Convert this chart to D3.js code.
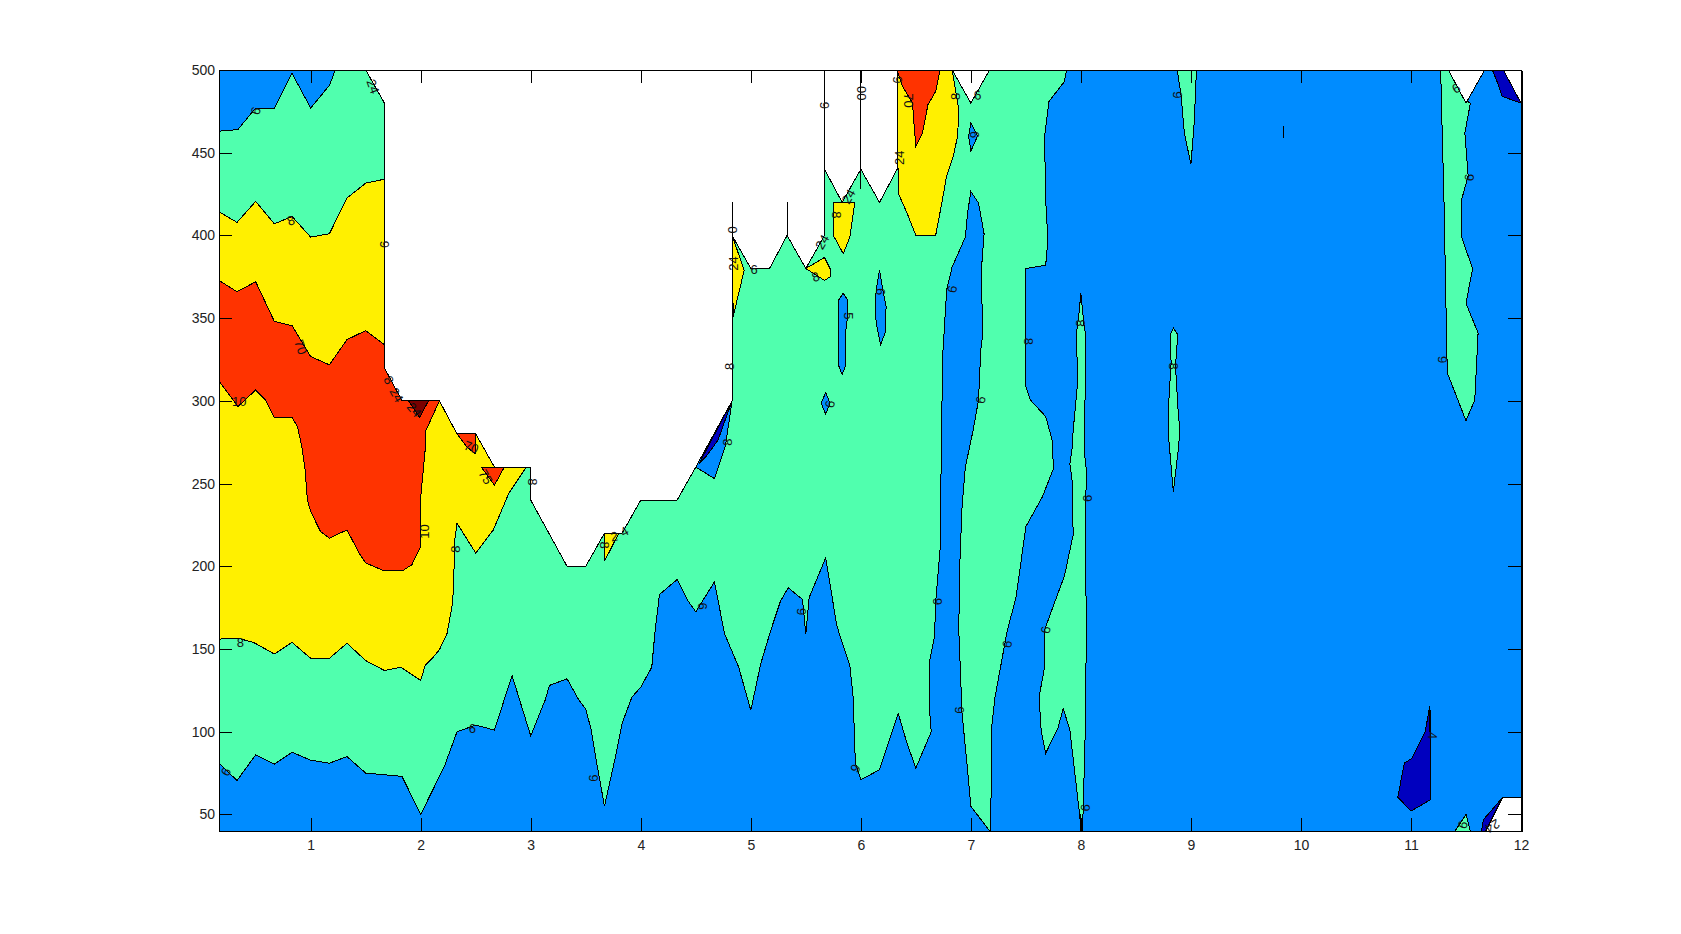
<!DOCTYPE html>
<html lang="en">
<head>
<meta charset="utf-8">
<title>Contour</title>
<script src="https://d3js.org/d3.v7.min.js"></script>
<style>
  body { margin: 0; background: #fff; }
  svg { display: block; }
  .axis text { font-family: "Liberation Sans", sans-serif; font-size: 14px; fill: #222; }
  .axis line, .axis path { stroke: #000; shape-rendering: crispEdges; }
  .clabel { font-family: "Liberation Sans", sans-serif; font-size: 13px; fill: #111; }
</style>
</head>
<body>
<svg width="1681" height="934"></svg>
<script>
// every outline is [month, level]
const xTicks = [1, 2, 3, 4, 5, 6, 7, 8, 9, 10, 11, 12];
const yTicks = [50, 100, 150, 200, 250, 300, 350, 400, 450, 500];

const blueBase = [[1/6,40],[1/6,500],[12,500],[12,40]];

const greenMain = [[1/6,81],[.33,70.5],[.5,86],[.67,80.4],[.83,87.6],[1,82.8],[1.17,81],[1.33,85],[1.5,75],[1.67,74],[1.83,73],[2,50],[2.17,73],[2.22,80],[2.33,100],[2.5,104],[2.67,101],[2.83,134],[3,97.5],[3.13,119],[3.17,128],[3.33,132],[3.43,120],[3.5,113.6],[3.55,101],[3.6,81],[3.67,55],[3.78,88],[3.83,105],[3.92,121],[4,127],[4.1,139],[4.13,161],[4.17,183],[4.33,192],[4.43,179],[4.5,172.5],[4.67,190.6],[4.76,159.5],[4.89,139],[5,113],[5.09,141],[5.18,161],[5.27,179],[5.34,187],[5.47,180],[5.5,159],[5.53,181],[5.68,205],[5.78,165],[5.8,160],[5.9,140],[5.93,121],[5.95,81],[6,71],[6.17,77],[6.25,93],[6.34,111],[6.42,93],[6.5,78],[6.64,100],[6.62,117],[6.62,141],[6.67,157.5],[6.68,178],[6.72,210],[6.73,262],[6.74,311],[6.74,323],[6.78,367],[6.83,381],[6.95,399],[6.97,413.5],[7,426.6],[7.07,419.5],[7.12,401],[7.1,383],[7.1,361],[7.11,341],[7.09,331],[7.07,300.6],[7.02,282],[6.95,260],[6.92,236],[6.9,202],[6.89,162],[6.92,111],[6.97,77],[7,55],[7.17,40],[7.18,40],[7.19,103],[7.22,121],[7.33,161],[7.41,181],[7.5,224],[7.65,242],[7.75,259],[7.74,276],[7.68,290.5],[7.54,300.6],[7.5,308.7],[7.5,351],[7.5,380],[7.68,382],[7.7,397],[7.68,421.6],[7.67,460],[7.71,481],[7.85,493],[7.87,500],[1.224,500],[1.17,490.7],[1,477],[.83,498],[.67,477],[.5,477],[.338,464],[1/6,463]];
const greenRidge8 = [[8,365],[8.03,345],[8.04,341],[8.04,311],[8.03,270],[8.05,258],[8.04,222],[8.05,161.5],[8.04,101],[8.02,51],[8.01,40],[8,40],[7.99,49],[7.9,101],[7.84,114],[7.79,102],[7.68,87],[7.64,100],[7.62,121],[7.67,139],[7.67,161.5],[7.76,178],[7.85,194],[7.93,219],[7.92,252],[7.9,262],[7.92,271],[7.93,282],[7.97,311],[7.96,341],[7.98,351]];
const greenTop9 = [[8.876,500],[9.05,500],[9.03,468],[9,443],[8.94,462],[8.91,485]];
const greenRidge9 = [[8.84,344],[8.88,340],[8.86,321],[8.885,292.5],[8.9,282],[8.885,270],[8.87,262],[8.84,245],[8.8,276],[8.8,300.6],[8.82,323],[8.81,340]];
const greenRidge11 = [[11.27,500],[11.34,500],[11.49,482],[11.54,480],[11.49,462],[11.52,436],[11.46,421.6],[11.46,399],[11.56,380],[11.5,359],[11.61,341],[11.58,300.6],[11.5,288],[11.33,317],[11.32,351],[11.3,421.6],[11.28,472]];
const greenFoot11 = [[11.4,40],[11.5,50],[11.54,40]];

const blueIslands = [
  [[5.84,365],[5.88,361],[5.88,351],[5.86,341],[5.86,321],[5.83,316],[5.8,321],[5.8,361]],
  [[6.17,379],[6.2,367],[6.23,357],[6.22,341],[6.18,334],[6.14,347],[6.13,357],[6.14,367]],
  [[5.68,305],[5.72,298.6],[5.68,292],[5.64,298.6]],
  [[7,468],[7.06,460],[7,451],[6.98,460]],
  [[4.5,260],[4.67,253],[4.77,273],[4.8,286.5],[4.83,300]]
];

const yellowMain = [[1/6,414.3],[.33,407.9],[.5,420.6],[.67,407],[.83,411.5],[1,399],[1.17,401],[1.33,422.6],[1.5,431.6],[1.67,434],[1.67,320],[1.83,300],[2.17,300],[2.33,280],[2.5,280],[2.67,260],[2.96,260],[2.8,244],[2.66,222],[2.5,208],[2.33,226],[2.31,216],[2.3,192],[2.29,178],[2.24,159.5],[2.17,149.6],[2.1,144],[2.04,140],[2,131],[1.82,139],[1.67,137],[1.5,143],[1.33,153.5],[1.17,144.4],[1,144.4],[.83,154],[.67,147],[.48,154],[.34,156.5],[1/6,156]];
const yellowPatches = [
  [[4.83,400],[4.94,379],[4.84,351]],
  [[5.5,380],[5.67,386.7],[5.72,380],[5.72,375],[5.67,372.8]],
  [[5.75,420],[5.945,420],[5.9,399],[5.84,389],[5.75,400]],
  [[6.33,500],[6.83,500],[6.89,476],[6.88,460],[6.84,448],[6.78,436],[6.73,417.5],[6.68,400],[6.5,400],[6.42,413.5],[6.34,425.6]],
  [[3.67,220],[3.8,220],[3.67,203]]
];

const redMain = [[1/6,372.8],[.33,366],[.5,372],[.67,348],[.83,345.5],[1,326.8],[1.17,321.8],[1.33,337],[1.5,342.5],[1.67,334],[1.67,320],[1.83,300],[2.17,300],[2.04,281],[2.04,270],[2,242],[2,222],[2,212],[1.92,201],[1.84,197.5],[1.66,197.5],[1.5,202],[1.44,208],[1.33,222],[1.17,217],[1.09,221],[1,233],[.97,240],[.95,258],[.92,272],[.88,284.5],[.83,290],[.67,290],[.59,300.6],[.5,306.6],[.34,296.6],[1/6,312]];
const redPatches = [
  [[2.33,280],[2.5,280],[2.5,268],[2.42,272]],
  [[2.55,260],[2.76,260],[2.67,249]],
  [[6.33,500],[6.72,500],[6.68,487],[6.61,479],[6.56,462],[6.5,454],[6.48,470],[6.47,480],[6.38,490]]
];
const darkRed = [[1.89,300],[2.07,300],[1.99,290]];
const darkBlue = [
  [[4.83,300],[4.53,262],[4.6,267],[4.7,276]],
  [[11.17,115.6],[11.18,107],[11.18,59],[11,52],[10.88,60.5],[10.94,81],[11.01,84],[11.13,100]],
  [[11.74,500],[11.84,500],[12,480],[11.83,484],[11.8,490]],
  [[11.83,60],[11.68,40],[11.64,40],[11.66,47]]
];

const whiteGaps = [
  [[1.5,500],[1.67,480],[1.67,320],[1.83,300],[2.17,300],[2.33,280],[2.5,280],[2.67,260],[3,260],[3,240],[3.33,200],[3.5,200],[3.67,220],[3.83,220],[4,240],[4.33,240],[4.5,260],[4.83,300],[4.83,400],[5,380],[5.17,380],[5.33,400],[5.5,380],[5.67,400],[5.67,440],[5.83,420],[6,440],[6.17,420],[6.33,440],[6.33,500]],
  [[6.83,500],[7,480],[7.17,500]],
  [[11.34,500],[11.5,480],[11.67,500]],
  [[11.84,500],[12,480],[12,500]],
  [[11.83,60],[12,60],[12,40],[11.68,40]]
];

// degenerate contour pieces, [x, y from, y to]
const stems = [[4.83,300,420],[5.33,400,420],[5.67,440,500],[6,428,500],[3.67,203,220],[9.84,459,466],[8,40,50],[11.17,100,115]];

// contour labels: [x, y, text, rotation]
const labelX = [1.565,.5,.82,1.67,.91,.35,1.71,1.78,1.94,4.83,4.84,4.81,4.79,2.46,2.59,3.02,2.03,2.32,.36,.23,2.47,3.57,3.67,3.76,3.85,4.56,5.03,5.67,6.01,6.33,6.43,6.35,6.86,7.06,7.03,5.65,5.89,5.78,5.59,6.83,6.18,5.89,8,7.52,7.09,5.72,8.06,6.7,5.46,7.68,7.33,6.9,5.95,8.04,8.88,11.41,11.53,11.29,8.84,11.2,11.47,11.74];
const labelY = [490,475.4,409,394.6,332.5,299.6,312.6,303.6,294.5,403.4,383,320.8,275,272,254,251,221,210.4,154,75.8,102,72,212.8,218,221,176,379.6,478.6,486,494,481.6,447,484,484.7,461,396,423.6,412.5,375,367.5,366,351.4,347,336,300.6,298,241,178.6,172.6,161.5,153,113,77.8,54,485,489,435,325,321,97.7,43.7,43];
const labelText = ["24","6","8","9","70","10","8","24","24","0","24","8","8","70","75","8","10","8","8","6","6","9","8","2","4","6","6","9","00","9","70","24","8","6","9","24","24","8","8","6","9","5","8","8","6","6","6","6","9","6","6","9","9","6","9","6","6","9","8","4","6","24"];
const labelRot = [70,-70,-20,90,70,0,60,60,50,90,-90,-90,-90,20,60,90,-90,-90,0,-60,0,90,90,-10,-30,90,0,90,90,90,90,-90,-90,-10,-90,-60,-60,90,-20,-80,-90,90,-90,90,-80,-80,-90,-90,90,-80,-80,90,-60,-85,90,-30,-85,90,90,90,-70,150];

const svg = d3.select("svg");
const plotLeft = 219, plotRight = 1521, plotTop = 70, plotBottom = 831;

const xScale = d3.scaleLinear().domain([1/6, 12]).range([plotLeft, plotRight]);
const yScale = d3.scaleLinear().domain([40, 500]).range([plotBottom, plotTop]);

const outline = d3.line().x(d => xScale(d[0])).y(d => yScale(d[1]));

const colBlue = "#008cff", colGreen = "#50ffae", colYellow = "#fff000",
      colRed = "#ff3300", colDarkRed = "#7a0000", colDarkBlue = "#0000bf";

// painter's order, same as a filled contour
const layers = [
  [[blueBase], colBlue],
  [[greenMain, greenRidge8, greenTop9, greenRidge9, greenRidge11, greenFoot11], colGreen],
  [blueIslands, colBlue],
  [[yellowMain].concat(yellowPatches), colYellow],
  [[redMain].concat(redPatches), colRed],
  [[darkRed], colDarkRed],
  [darkBlue, colDarkBlue],
  [whiteGaps, "#fff"]
];

layers.forEach(function(l) {
  svg.append("g").selectAll("path").data(l[0]).enter().append("path")
    .attr("d", d => outline(d) + "Z")
    .attr("fill", l[1])
    .attr("stroke", "#000")
    .attr("stroke-width", 1)
    .attr("stroke-linejoin", "miter")
    .attr("shape-rendering", "crispEdges");
});

svg.append("g").selectAll("line").data(stems).enter().append("line")
  .attr("x1", d => xScale(d[0])).attr("x2", d => xScale(d[0]))
  .attr("y1", d => yScale(d[1])).attr("y2", d => yScale(d[2]))
  .attr("stroke", "#000")
  .attr("shape-rendering", "crispEdges");

svg.append("g").selectAll("text").data(labelText).enter().append("text")
  .attr("class", "clabel")
  .attr("text-anchor", "middle")
  .attr("dominant-baseline", "central")
  .attr("transform", (d, i) => "translate(" + xScale(labelX[i]) + "," + yScale(labelY[i]) + ") rotate(" + labelRot[i] + ")")
  .text(d => d);

// axes, ticks pointing in on all four sides
const tickLen = 13;
svg.append("g").attr("class", "axis")
  .attr("transform", "translate(0," + plotBottom + ")")
  .call(d3.axisBottom(xScale).tickValues(xTicks).tickSizeInner(-tickLen).tickSizeOuter(0).tickPadding(9).tickFormat(d3.format("d")));
svg.append("g").attr("class", "axis")
  .attr("transform", "translate(0," + plotTop + ")")
  .call(d3.axisTop(xScale).tickValues(xTicks).tickSizeInner(-tickLen).tickSizeOuter(0).tickFormat(""));
svg.append("g").attr("class", "axis")
  .attr("transform", "translate(" + plotLeft + ",0)")
  .call(d3.axisLeft(yScale).tickValues(yTicks).tickSizeInner(-tickLen).tickSizeOuter(0).tickPadding(4).tickFormat(d3.format("d")));
const rightAxis = svg.append("g").attr("class", "axis")
  .attr("transform", "translate(" + plotRight + ",0)")
  .call(d3.axisRight(yScale).tickValues(yTicks).tickSizeInner(-tickLen).tickSizeOuter(0).tickFormat(""));
rightAxis.select(".domain").attr("stroke-width", 2);
</script>
</body>
</html>
